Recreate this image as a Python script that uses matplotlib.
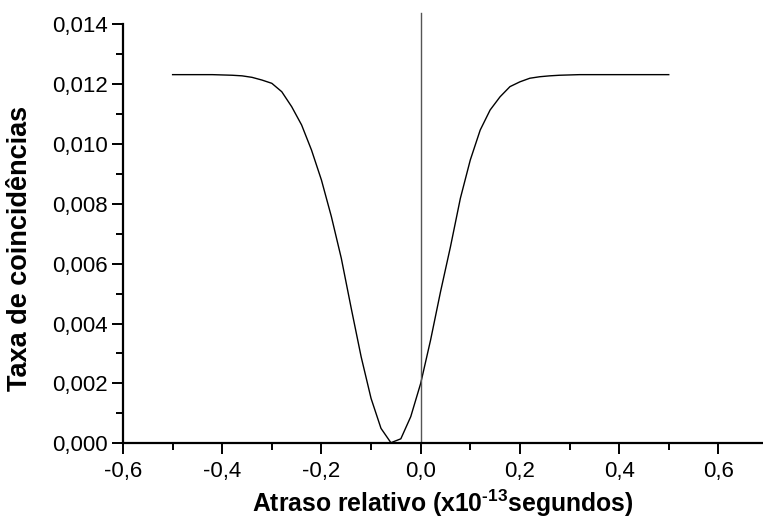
import numpy as np
import matplotlib
matplotlib.use("Agg")
from matplotlib import pyplot as plt
from matplotlib.ticker import MultipleLocator, FuncFormatter

plt.rcParams['font.family'] = ['Liberation Sans', 'DejaVu Sans']
plt.rcParams['mathtext.fontset'] = 'custom'
plt.rcParams['mathtext.rm'] = 'Liberation Sans:bold'
plt.rcParams['mathtext.bf'] = 'Liberation Sans:bold'

# atraso relativo (x1e-13 s), passo 0.02
atraso = np.round(np.arange(-0.5, 0.5001, 0.02), 2)
taxa = [0.01231, 0.01231, 0.01231, 0.01231, 0.01231, 0.01230, 0.01229,
        0.01227, 0.01222, 0.01213, 0.01202, 0.01174, 0.01124, 0.01063,
        0.00979, 0.00879, 0.00757, 0.00618, 0.00451, 0.00289, 0.00150,
        0.00050, 0.00002, 0.00015, 0.00089, 0.00200, 0.00345, 0.00506,
        0.00656, 0.00818, 0.00946, 0.01046, 0.01113, 0.01157, 0.01191,
        0.01207, 0.01219, 0.01224, 0.01227, 0.01229, 0.01230, 0.01231,
        0.01231, 0.01231, 0.01231, 0.01231, 0.01231, 0.01231, 0.01231,
        0.01231, 0.01231]

fig = plt.figure(figsize=(7.63, 5.27), dpi=100)
ax = fig.add_axes([0.1612, 0.1588, 0.8388, 0.7956])

ax.plot(atraso, taxa, '-', color='black', lw=1.0)
ax.axvline(0.0, ymin=0, ymax=1.026, color='#555555', lw=1.0, clip_on=False)

ax.set_xlim(-0.6, 0.69)
ax.set_ylim(0.0, 0.014)
ax.spines['top'].set_visible(False)
ax.spines['right'].set_visible(False)
for s in ('left', 'bottom'):
    ax.spines[s].set_linewidth(1.6)

ax.xaxis.set_major_locator(MultipleLocator(0.2))
ax.xaxis.set_minor_locator(MultipleLocator(0.1))
ax.yaxis.set_major_locator(MultipleLocator(0.002))
ax.yaxis.set_minor_locator(MultipleLocator(0.001))

def fmt_x(v, pos):
    s = f"{v:.1f}"
    if s == "-0.0":
        s = "0.0"
    return s.replace('.', ',')

ax.xaxis.set_major_formatter(FuncFormatter(fmt_x))
ax.yaxis.set_major_formatter(FuncFormatter(lambda v, p: f"{v:.3f}".replace('.', ',')))
ax.tick_params(which='major', direction='out', length=8, width=1.4, labelsize=16)
ax.tick_params(axis='x', which='major', pad=5)
ax.tick_params(axis='y', which='major', pad=3)
ax.tick_params(which='minor', direction='out', length=5, width=1.4)

ax.set_xlabel(r'Atraso relativo (x10$^{\text{-13}}$segundos)', fontsize=17.8, fontweight='bold', labelpad=4)
ax.set_ylabel('Taxa de coincidências', fontsize=19.5, fontweight='bold')
ax.yaxis.set_label_coords(-0.14, 0.465)

fig.savefig('out.png', dpi=100)
